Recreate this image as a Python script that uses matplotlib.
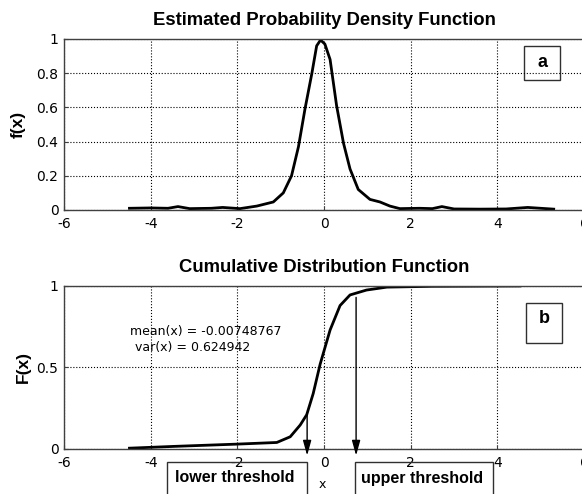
'''
Estimated PDF and CDF with lower / upper thresholds
'''

import matplotlib
matplotlib.use('Agg')
import matplotlib.pyplot as plt
from matplotlib.patches import Rectangle

# estimated probability density
pdf_x = [-4.49, -4.0, -3.6, -3.37, -3.1, -2.6, -2.34, -2.17, -1.94, -1.55, -1.17,
         -0.94, -0.75, -0.59, -0.44, -0.28, -0.17, -0.08, 0.02, 0.14, 0.29, 0.45,
         0.60, 0.79, 1.06, 1.29, 1.52, 1.75, 2.2, 2.5, 2.72, 3.0, 3.6, 4.2, 4.7, 5.0, 5.3]
pdf_y = [0.01, 0.012, 0.01, 0.02, 0.008, 0.01, 0.015, 0.012, 0.008, 0.023, 0.047,
         0.10, 0.20, 0.37, 0.59, 0.80, 0.96, 0.994, 0.97, 0.88, 0.61, 0.39,
         0.24, 0.12, 0.062, 0.047, 0.023, 0.008, 0.01, 0.008, 0.02, 0.006, 0.005, 0.006, 0.015, 0.01, 0.005]

# cumulative distribution
cdf_x = [-4.49, -3.46, -2.0, -1.09, -0.78, -0.55, -0.40, -0.25, -0.09, 0.14,
         0.37, 0.60, 0.98, 1.45, 2.5, 4.52]
cdf_y = [0.005, 0.016, 0.03, 0.04, 0.075, 0.147, 0.21, 0.34, 0.52, 0.73,
         0.88, 0.945, 0.975, 0.993, 0.998, 1.0]

mean_x = -0.00748767
var_x = 0.624942
lower_thr = -0.39
upper_thr = 0.74
lower_start = 0.21
upper_start = 0.93

label_font = 'Liberation Sans'
tick_font = 'DejaVu Sans'


def style_axes(ax, yticks, yticklabels):
    ax.set_xlim(-6, 6)
    ax.set_xticks([-6, -4, -2, 0, 2, 4, 6])
    ax.set_xticklabels(['-6', '-4', '-2', '0', '2', '4', '6'])
    ax.set_yticks(yticks)
    ax.set_yticklabels(yticklabels)
    ax.grid(True, linestyle=':', color='black', linewidth=0.8)
    ax.tick_params(direction='in', length=3, labelsize=10, color='#404040')
    ax.tick_params(axis='x', pad=5)
    ax.tick_params(axis='y', pad=4)
    for lab in ax.get_xticklabels() + ax.get_yticklabels():
        lab.set_fontfamily(tick_font)
    for sp in ax.spines.values():
        sp.set_color('#404040')
        sp.set_linewidth(1.0)
    ax.spines['right'].set_visible(False)


def label_box(ax, x0, y0, w, h, txt, ty):
    ax.add_patch(Rectangle((x0, y0), w, h, fill=False, edgecolor='#303030',
                           linewidth=1.0, clip_on=False))
    ax.text(x0 + w / 2, ty, txt, ha='center', va='center', fontsize=13,
            fontweight='bold', fontfamily=label_font)


def main():
    fig = plt.figure(figsize=(5.82, 4.94), dpi=100)
    ax1 = fig.add_axes([0.110, 0.5749, 0.8935, 0.3462])
    ax2 = fig.add_axes([0.110, 0.0911, 0.8935, 0.33])

    # top: pdf
    ax1.plot(pdf_x, pdf_y, color='black', linewidth=2)
    ax1.set_ylim(0, 1)
    style_axes(ax1, [0, 0.2, 0.4, 0.6, 0.8, 1], ['0', '0.2', '0.4', '0.6', '0.8', '1'])
    ax1.set_title('Estimated Probability Density Function', fontsize=13.3,
                  fontweight='bold', fontfamily=label_font, pad=10)
    ax1.set_ylabel('f(x)', fontsize=12.5, fontweight='bold', fontfamily=label_font, labelpad=8)
    label_box(ax1, 4.62, 0.76, 0.83, 0.2, 'a', 0.86)

    # bottom: cdf
    ax2.plot(cdf_x, cdf_y, color='black', linewidth=2)
    ax2.set_ylim(0, 1)
    style_axes(ax2, [0, 0.5, 1], ['0', '0.5', '1'])
    ax2.set_title('Cumulative Distribution Function', fontsize=13.3,
                  fontweight='bold', fontfamily=label_font, pad=10)
    ax2.set_ylabel('F(x)', fontsize=12.5, fontweight='bold', fontfamily=label_font, labelpad=4)
    label_box(ax2, 4.66, 0.65, 0.83, 0.246, 'b', 0.80)

    ax2.text(-4.48, 0.72, 'mean(x) = %.8f' % mean_x, fontsize=9, fontfamily=tick_font,
             va='center')
    ax2.text(-4.36, 0.62, 'var(x) = %g' % var_x, fontsize=9, fontfamily=tick_font,
             va='center')

    arrow = dict(arrowstyle='-|>,head_length=0.9,head_width=0.25', color='black',
                 linewidth=1.0, shrinkA=0, shrinkB=0)
    ax2.annotate('', xy=(lower_thr, -0.04), xytext=(lower_thr, lower_start),
                 arrowprops=arrow, annotation_clip=False)
    ax2.annotate('', xy=(upper_thr, -0.04), xytext=(upper_thr, upper_start),
                 arrowprops=arrow, annotation_clip=False)

    # threshold boxes below the axis
    fig.add_artist(Rectangle((167 / 582, -0.05), 140 / 582, 0.0648 + 0.05,
                             transform=fig.transFigure, fill=False,
                             edgecolor='#303030', linewidth=1.0))
    fig.add_artist(Rectangle((355 / 582, -0.05), 138 / 582, 0.0648 + 0.05,
                             transform=fig.transFigure, fill=False,
                             edgecolor='#303030', linewidth=1.0))
    fig.text(235 / 582, 1 - 477 / 494, 'lower threshold', ha='center', va='center',
             fontsize=11.5, fontweight='bold', fontfamily=label_font)
    fig.text(422 / 582, 1 - 478 / 494, 'upper threshold', ha='center', va='center',
             fontsize=11.5, fontweight='bold', fontfamily=label_font)
    fig.text(322 / 582, 1 - 484 / 494, 'x', ha='center', va='center',
             fontsize=9, fontfamily=tick_font)

    fig.savefig('out.png', dpi=100)


if __name__ == '__main__':
    main()
